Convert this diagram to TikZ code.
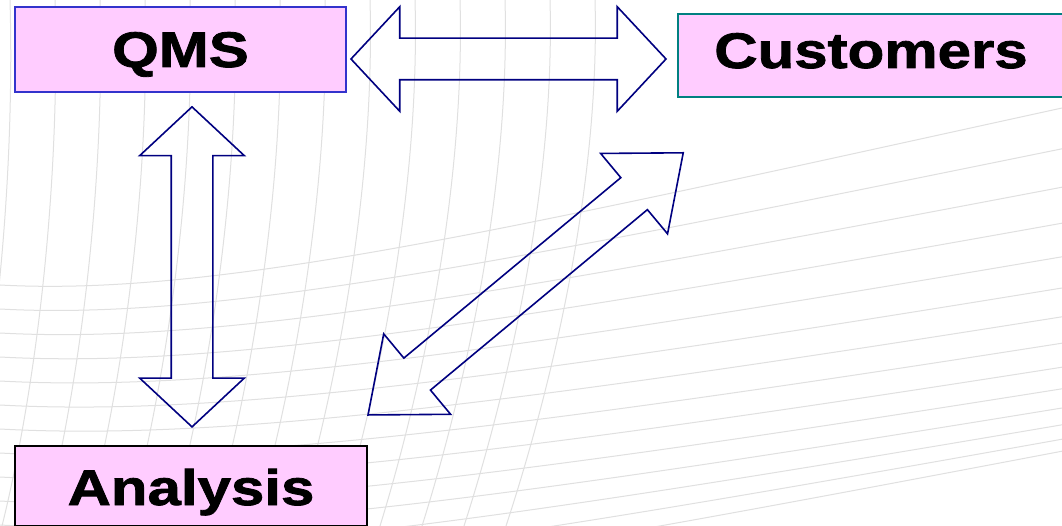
\documentclass[tikz,border=0pt]{standalone}
\usepackage{fontspec}
\setmainfont{Liberation Sans}
\newfontfamily\labelfont[FakeStretch=1.2,FakeBold=1.6]{Liberation Sans}
\usetikzlibrary{shapes.arrows,calc}

\definecolor{boxpink}{HTML}{FFCCFF}
\definecolor{qmsblue}{HTML}{3333CC}
\definecolor{custteal}{HTML}{008080}
\definecolor{linknavy}{HTML}{000080}

\tikzset{
  box/.style={draw, line width=2pt, fill=boxpink, inner sep=0pt,
    font=\labelfont\bfseries\fontsize{50}{56}\selectfont},
  link/.style={double arrow, draw=linknavy, line width=1.6pt, inner sep=20pt,
    double arrow head extend=31.5pt, double arrow tip angle=94},
  mesh/.style={black!12, line width=1pt}
}

\begin{document}
\begin{tikzpicture}[x=1pt,y=-1pt]
\fill[white] (0,0) rectangle (1062,526);
\useasboundingbox (0,0) rectangle (1062,526);
\clip (0,0) rectangle (1062,526);

% background mesh
\foreach \j in {0,...,13} {
  \pgfmathsetmacro\yl{285+24*\j}
  \pgfmathsetmacro\yr{108+42*\j-1.2*\j*\j}
  \draw[mesh] (0,\yl) .. controls (220,\yl+12) and (520,{(\yl+\yr)/2+30}) .. (1062,\yr);
}
\foreach \k in {0,...,13} {
  \pgfmathsetmacro\xt{10+45*\k}
  \draw[mesh] (\xt,0) .. controls (\xt+5,180) and (\xt-15-2*\k,380) .. (\xt-50-3*\k,526);
}

% the three boxes
\node[box, draw=qmsblue, minimum width=331pt, minimum height=85pt,
  text height=36pt, text depth=1pt] (qms) at (180.5,49.5) {QMS};
\node[box, draw=custteal, minimum width=386pt, minimum height=83pt,
  text height=36pt, text depth=11pt] (cust) at (871,55.5) {Customers};
\node[box, draw=black, line width=2.5pt, minimum width=352pt, minimum height=80pt,
  text height=38pt, text depth=0pt] (anal) at (191,486) {Analysis};

% links between them
\node[link, minimum height=315pt] (qmscust) at ($(qms.east)!0.5!(cust.west)+(-3.5,6.5)$) {};
\node[link, minimum height=320pt, rotate=90] (qmsanal) at ($(qms.south)!0.5!(anal.north)+(6.25,-2)$) {};
\node[link, minimum height=410pt, rotate=39.75, double arrow tip angle=78.6]
  (custanal) at ($(cust.south west)!0.5!(anal.north east)+(3,12.5)$) {};
\end{tikzpicture}
\end{document}
